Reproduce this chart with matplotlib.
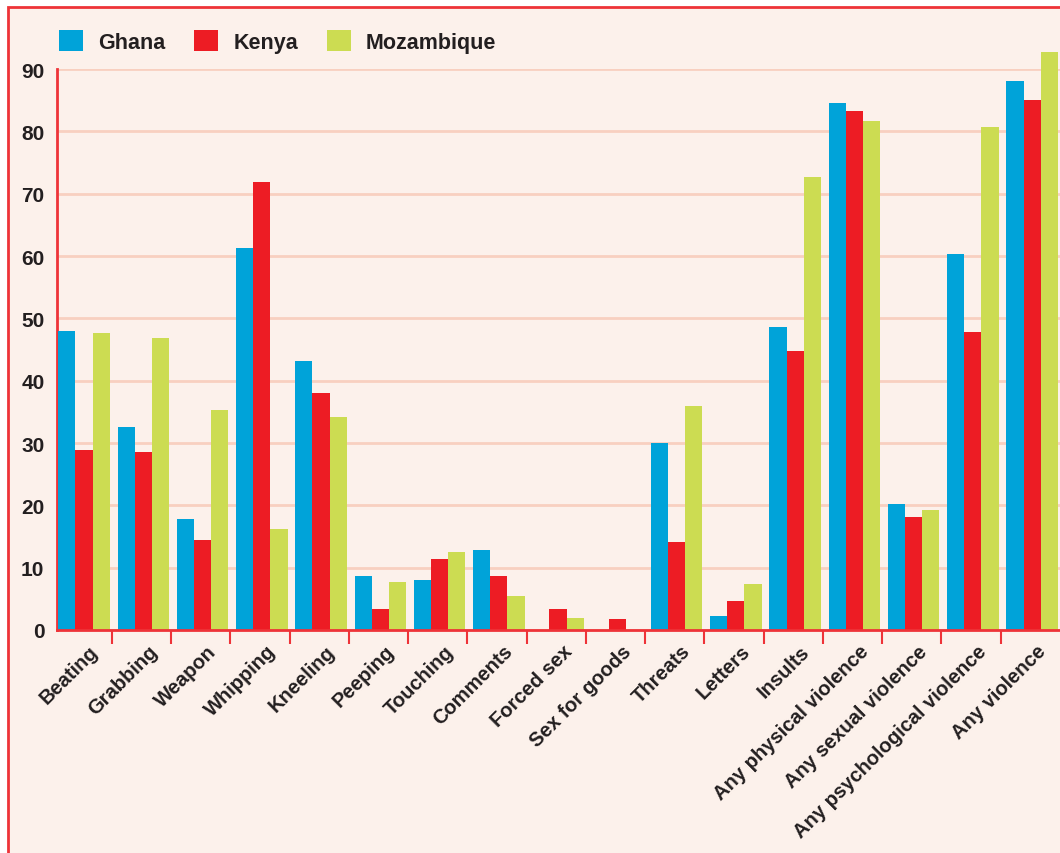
import matplotlib
matplotlib.use("Agg")
import matplotlib.pyplot as plt
import matplotlib.transforms as mtransforms
from matplotlib.patches import Rectangle
import numpy as np

categories = ["Beating", "Grabbing", "Weapon", "Whipping", "Kneeling", "Peeping",
              "Touching", "Comments", "Forced sex", "Sex for goods", "Threats",
              "Letters", "Insults", "Any physical violence", "Any sexual violence",
              "Any psychological violence", "Any violence"]
ghana = [48.0, 32.6, 17.8, 61.3, 43.2, 8.7, 8.0, 12.8, 0, 0, 30.0, 2.2, 48.6, 84.6, 20.2, 60.4, 88.0]
kenya = [28.9, 28.6, 14.4, 71.9, 38.0, 3.4, 11.4, 8.7, 3.4, 1.8, 14.1, 4.7, 44.8, 83.3, 18.1, 47.8, 85.1]
mozambique = [47.7, 46.9, 35.3, 16.2, 34.2, 7.7, 12.5, 5.5, 1.9, 0, 36.0, 7.4, 72.7, 81.7, 19.3, 80.7, 92.8]
series = [("Ghana", ghana), ("Kenya", kenya), ("Mozambique", mozambique)]
yticks = [0, 10, 20, 30, 40, 50, 60, 70, 80, 90]

plt.rcParams["font.family"] = ["Liberation Sans", "DejaVu Sans"]

colors = ["#00A3D9", "#ED1C24", "#CCDC52"]
bg = "#FCF1EB"
red = "#EE3338"
grid_c = "#F8D0C0"
txt = "#231F20"

fig = plt.figure(figsize=(10.6, 8.54), dpi=100, facecolor="white")
# background panel with red border
fig.patches.append(Rectangle((8/1060, -0.02), 1.05, 0.02 + 1 - 8/854,
                             transform=fig.transFigure, facecolor=bg,
                             edgecolor=red, linewidth=2, zorder=-10))

ax = fig.add_axes([57/1060, 1 - 631/854, 1 - 57/1060, (631 - 70)/854])
ax.set_facecolor("none")
ax.set_zorder(1)

x = np.arange(len(categories))
w = 0.29
for k, (name, vals) in enumerate(series):
    ax.bar(x + (k - 1) * w, vals, width=w, color=colors[k], label=name,
           zorder=3, clip_on=False, linewidth=0)

ax.set_ylim(0, 90)
ax.set_xlim(-0.456, 16.47)
ax.set_yticks(yticks)
ax.yaxis.grid(True, color=grid_c, linewidth=2, zorder=0)
ax.set_axisbelow(True)

for s in ["top", "right"]:
    ax.spines[s].set_visible(False)
ax.spines["left"].set_color(red)
ax.spines["left"].set_linewidth(2)
ax.spines["bottom"].set_color(red)
ax.spines["bottom"].set_linewidth(2)
ax.spines["bottom"].set_zorder(4)

ax.tick_params(axis="y", length=0, pad=9, labelsize=15, labelcolor=txt)
for lab in ax.get_yticklabels():
    lab.set_fontweight("bold")

ax.set_xticks(x)
ax.set_xticklabels(categories, rotation=45, ha="right", va="center",
                   rotation_mode="anchor", fontsize=14.5, fontweight="bold", color=txt)
ax.tick_params(axis="x", which="major", length=0, pad=13)
ax.set_xticks(x[:-1] + 0.47, minor=True)
ax.tick_params(axis="x", which="minor", length=10, width=1.5, color=red, direction="out")
offset = mtransforms.ScaledTranslation(11/100, 0, fig.dpi_scale_trans)
for lab in ax.get_xticklabels():
    lab.set_transform(lab.get_transform() + offset)

leg = fig.legend(loc="upper left", bbox_to_anchor=(40/1060, 1 - 12/854), ncol=3,
                 frameon=False, handlelength=1.1, handleheight=1.1,
                 handletextpad=0.7, columnspacing=1.35,
                 prop={"weight": "bold", "size": 15.5})
for t in leg.get_texts():
    t.set_color(txt)

fig.savefig("out.png", dpi=100, facecolor="white")
